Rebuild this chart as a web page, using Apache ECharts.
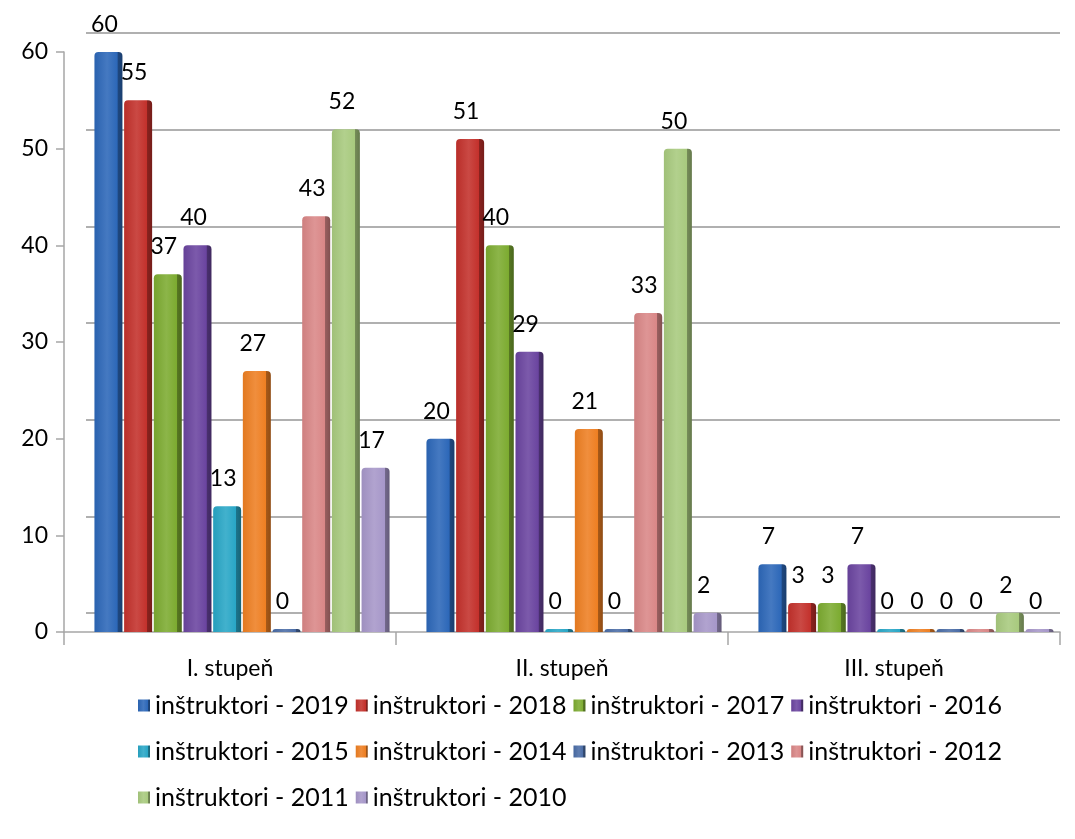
<!DOCTYPE html>
<html><head><meta charset="utf-8">
<script src="https://cdn.jsdelivr.net/npm/echarts@6/dist/echarts.min.js"></script>
<style>html,body{margin:0;padding:0;background:#fff}#c{width:1075px;height:839px}</style>
</head><body><div id="c"></div>
<script>
const categories = ['I. stupeň', 'II. stupeň', 'III. stupeň'];
const seriesNames = ['inštruktori - 2019','inštruktori - 2018','inštruktori - 2017','inštruktori - 2016','inštruktori - 2015','inštruktori - 2014','inštruktori - 2013','inštruktori - 2012','inštruktori - 2011','inštruktori - 2010'];
const v2019 = [60, 20, 7];
const v2018 = [55, 51, 3];
const v2017 = [37, 40, 3];
const v2016 = [40, 29, 7];
const v2015 = [13, 0, 0];
const v2014 = [27, 21, 0];
const v2013 = [0, 0, 0];
const v2012 = [43, 33, 0];
const v2011 = [52, 50, 2];
const v2010 = [17, 2, 0];
const yTicks = [0, 10, 20, 30, 40, 50, 60];
const colors = ['#2c67b8','#c3302b','#7cab30','#6a449f','#28a6c6','#ee7f22','#4a6ca6','#d98686','#a8ca7e','#a697c9'];

const values = [v2019,v2018,v2017,v2016,v2015,v2014,v2013,v2012,v2011,v2010];
function shade(hex, f){
  const n=parseInt(hex.slice(1),16);let r=n>>16,g=(n>>8)&255,b=n&255;
  if(f>0){r+= (255-r)*f; g+=(255-g)*f; b+=(255-b)*f;} else {r*=1+f; g*=1+f; b*=1+f;}
  return 'rgb('+Math.round(r)+','+Math.round(g)+','+Math.round(b)+')';
}
const font = 'Lato, "Open Sans", sans-serif';
const series = seriesNames.map((name,i)=>({
  name, type:'bar', data: values[i], xAxisIndex:1, yAxisIndex:1,
  barWidth: 28, barGap: '6%', barMinHeight: 3,
  itemStyle: { color: {type:'linear',x:0,y:0,x2:1,y2:0,colorStops:[
    {offset:0,color:shade(colors[i],-0.05)},{offset:0.45,color:shade(colors[i],0.12)},{offset:0.82,color:colors[i]},{offset:0.83,color:shade(colors[i],-0.3)},{offset:1,color:shade(colors[i],-0.4)}]},
    borderRadius:[4,4,0,0] },
  label: { show:true, position:'top', distance:16, offset:[-4,0], color:'#000', fontSize:23, fontFamily:font },
  emphasis:{disabled:true}
}));
const legendStyle = { textStyle:{fontSize:25,color:'#000',fontFamily:font}, itemWidth:12, itemHeight:12, itemGap:7, icon:'rect', left:133, orient:'horizontal' };
const chart = echarts.init(document.getElementById('c'), null, {renderer:'canvas'});
chart.setOption({
  animation:false,
  color: colors,
  grid: [
    { left:64, right:15, top:52, bottom:207 },
    { left:76, right:3, top:52, bottom:207 },
    { left:86, right:15, top:33, bottom:226 }
  ],
  legend: [
    Object.assign({top:688, data: seriesNames.slice(0,4)}, legendStyle),
    Object.assign({top:734, data: seriesNames.slice(4,8)}, legendStyle),
    Object.assign({top:780, data: seriesNames.slice(8,10)}, legendStyle)
  ],
  xAxis: [
    { type:'category', data: categories, gridIndex:0,
      axisLine:{lineStyle:{color:'#a6a6a6',width:1.5}}, axisTick:{show:true,length:13,lineStyle:{color:'#a6a6a6',width:1.5}},
      axisLabel:{color:'#000',fontSize:23,fontFamily:font,margin:25} },
    { type:'category', data: categories, gridIndex:1, show:false },
    { type:'category', data: categories, gridIndex:2, show:false }
  ],
  yAxis: [
    { type:'value', min:0, max:60, interval:10, gridIndex:0,
      axisLine:{show:true,lineStyle:{color:'#a6a6a6',width:1.5}}, axisTick:{show:true,length:8,lineStyle:{color:'#a6a6a6',width:1.5}},
      axisLabel:{color:'#000',fontSize:23,fontFamily:font,margin:16,formatter:v=>yTicks.includes(v)?String(v):''},
      splitLine:{show:false} },
    { type:'value', min:0, max:60, interval:10, gridIndex:1, show:false, splitLine:{show:false} },
    { type:'value', min:0, max:60, interval:10, gridIndex:2,
      axisLine:{show:false}, axisTick:{show:false}, axisLabel:{show:false},
      splitLine:{lineStyle:{color:'#b0b0b0',width:2}} }
  ],
  series
});
</script></body></html>
